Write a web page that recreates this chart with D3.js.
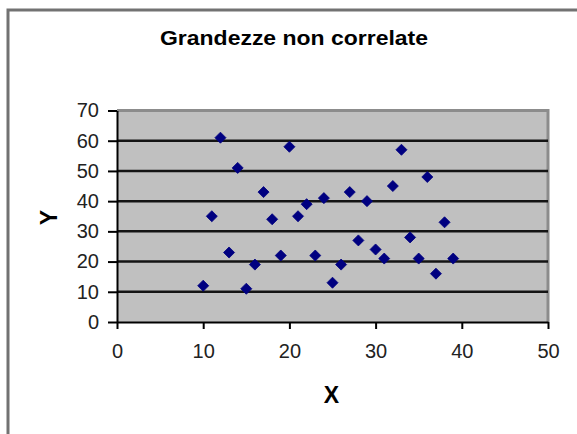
<!DOCTYPE html>
<html>
<head>
<meta charset="utf-8">
<script src="https://cdn.jsdelivr.net/npm/d3@7"></script>
<style>
  html, body { margin: 0; padding: 0; background: #fff; }
  svg { display: block; }
</style>
</head>
<body>
<div id="chart"></div>
<script>
// valori
const titleText = "Grandezze non correlate";
const xLabel = "X";
const yLabel = "Y";
const xValues = [10, 11, 12, 13, 14, 15, 16, 17, 18, 19, 20, 21, 22, 23, 24,
                 25, 26, 27, 28, 29, 30, 31, 32, 33, 34, 35, 36, 37, 38, 39];
const yValues = [12, 35, 61, 23, 51, 11, 19, 43, 34, 22, 58, 35, 39, 22, 41,
                 13, 19, 43, 27, 40, 24, 21, 45, 57, 28, 21, 48, 16, 33, 21];
const xTicks = [0, 10, 20, 30, 40, 50];
const yTicks = [0, 10, 20, 30, 40, 50, 60, 70];

(function() {
    const W = 577, H = 434;
    const colors = {
        frame: "#727272",
        plotBg: "#c0c0c0",
        plotBorder: "#8c8c8c",
        grid: "#141414",
        point: "#000080",
        text: "#000"
    };
    const font = '"Liberation Sans", Arial, sans-serif';

    const plot = { left: 117, right: 548, top: 110.5, bottom: 322 };

    const svg = d3.select("#chart").append("svg")
        .attr("width", W)
        .attr("height", H);

    // cornice del grafico (solo lato sinistro e superiore visibili)
    svg.append("path")
        .attr("d", `M8,${H} L8,10 L${W},10`)
        .attr("fill", "none")
        .attr("stroke", colors.frame)
        .attr("stroke-width", 3);

    const x = d3.scaleLinear().domain([0, 50]).range([plot.left, plot.right]);
    const y = d3.scaleLinear().domain([0, 70]).range([plot.bottom, plot.top]);

    // area del tracciato
    svg.append("rect")
        .attr("x", x(0))
        .attr("y", y(70))
        .attr("width", x(50) - x(0))
        .attr("height", y(0) - y(70))
        .attr("fill", colors.plotBg);

    svg.append("path")
        .attr("d", `M${x(0)},${y(70)} L${x(50)},${y(70)} L${x(50)},${y(0)}`)
        .attr("fill", "none")
        .attr("stroke", colors.plotBorder)
        .attr("stroke-width", 3);

    // griglia orizzontale
    svg.append("g")
        .selectAll("line")
        .data(yTicks.filter(t => t > 0 && t < 70))
        .enter().append("line")
        .attr("x1", x(0))
        .attr("x2", x(50))
        .attr("y1", d => y(d))
        .attr("y2", d => y(d))
        .attr("stroke", colors.grid)
        .attr("stroke-width", 2.5);

    // assi
    const yAxis = svg.append("g")
        .attr("transform", `translate(${x(0)},0)`)
        .call(d3.axisLeft(y).tickValues(yTicks).tickSizeInner(9).tickSizeOuter(0).tickPadding(9));

    const xAxis = svg.append("g")
        .attr("transform", `translate(0,${y(0)})`)
        .call(d3.axisBottom(x).tickValues(xTicks).tickSizeInner(7).tickSizeOuter(0).tickPadding(15));

    [yAxis, xAxis].forEach(ax => {
        ax.select(".domain").attr("stroke", "#000").attr("stroke-width", 2);
        ax.selectAll(".tick line").attr("stroke", "#000").attr("stroke-width", 2);
        ax.selectAll(".tick text")
            .attr("font-family", font)
            .attr("font-size", "20px")
            .attr("fill", "#222");
    });

    // punti (rombi)
    const points = xValues.map((v, i) => ({ x: v, y: yValues[i] }));
    svg.append("g")
        .selectAll("path")
        .data(points)
        .enter().append("path")
        .attr("transform", d => `translate(${x(d.x)},${y(d.y)})`)
        .attr("d", d3.symbol().type(d3.symbolDiamond2).size(78))
        .attr("fill", colors.point)
        .attr("stroke", colors.point)
        .attr("stroke-width", 0.8);

    // titolo ed etichette degli assi
    svg.append("text")
        .attr("x", 294)
        .attr("y", 45)
        .attr("text-anchor", "middle")
        .attr("font-family", font)
        .attr("font-weight", "bold")
        .attr("font-size", "21px")
        .attr("textLength", 268)
        .attr("lengthAdjust", "spacingAndGlyphs")
        .attr("fill", colors.text)
        .text(titleText);

    svg.append("text")
        .attr("x", 331.5)
        .attr("y", 403)
        .attr("text-anchor", "middle")
        .attr("font-family", font)
        .attr("font-weight", "bold")
        .attr("font-size", "23px")
        .attr("fill", colors.text)
        .text(xLabel);

    svg.append("text")
        .attr("transform", "translate(57,217.5) rotate(-90)")
        .attr("text-anchor", "middle")
        .attr("font-family", font)
        .attr("font-weight", "bold")
        .attr("font-size", "23px")
        .attr("fill", colors.text)
        .text(yLabel);
})();
</script>
</body>
</html>
